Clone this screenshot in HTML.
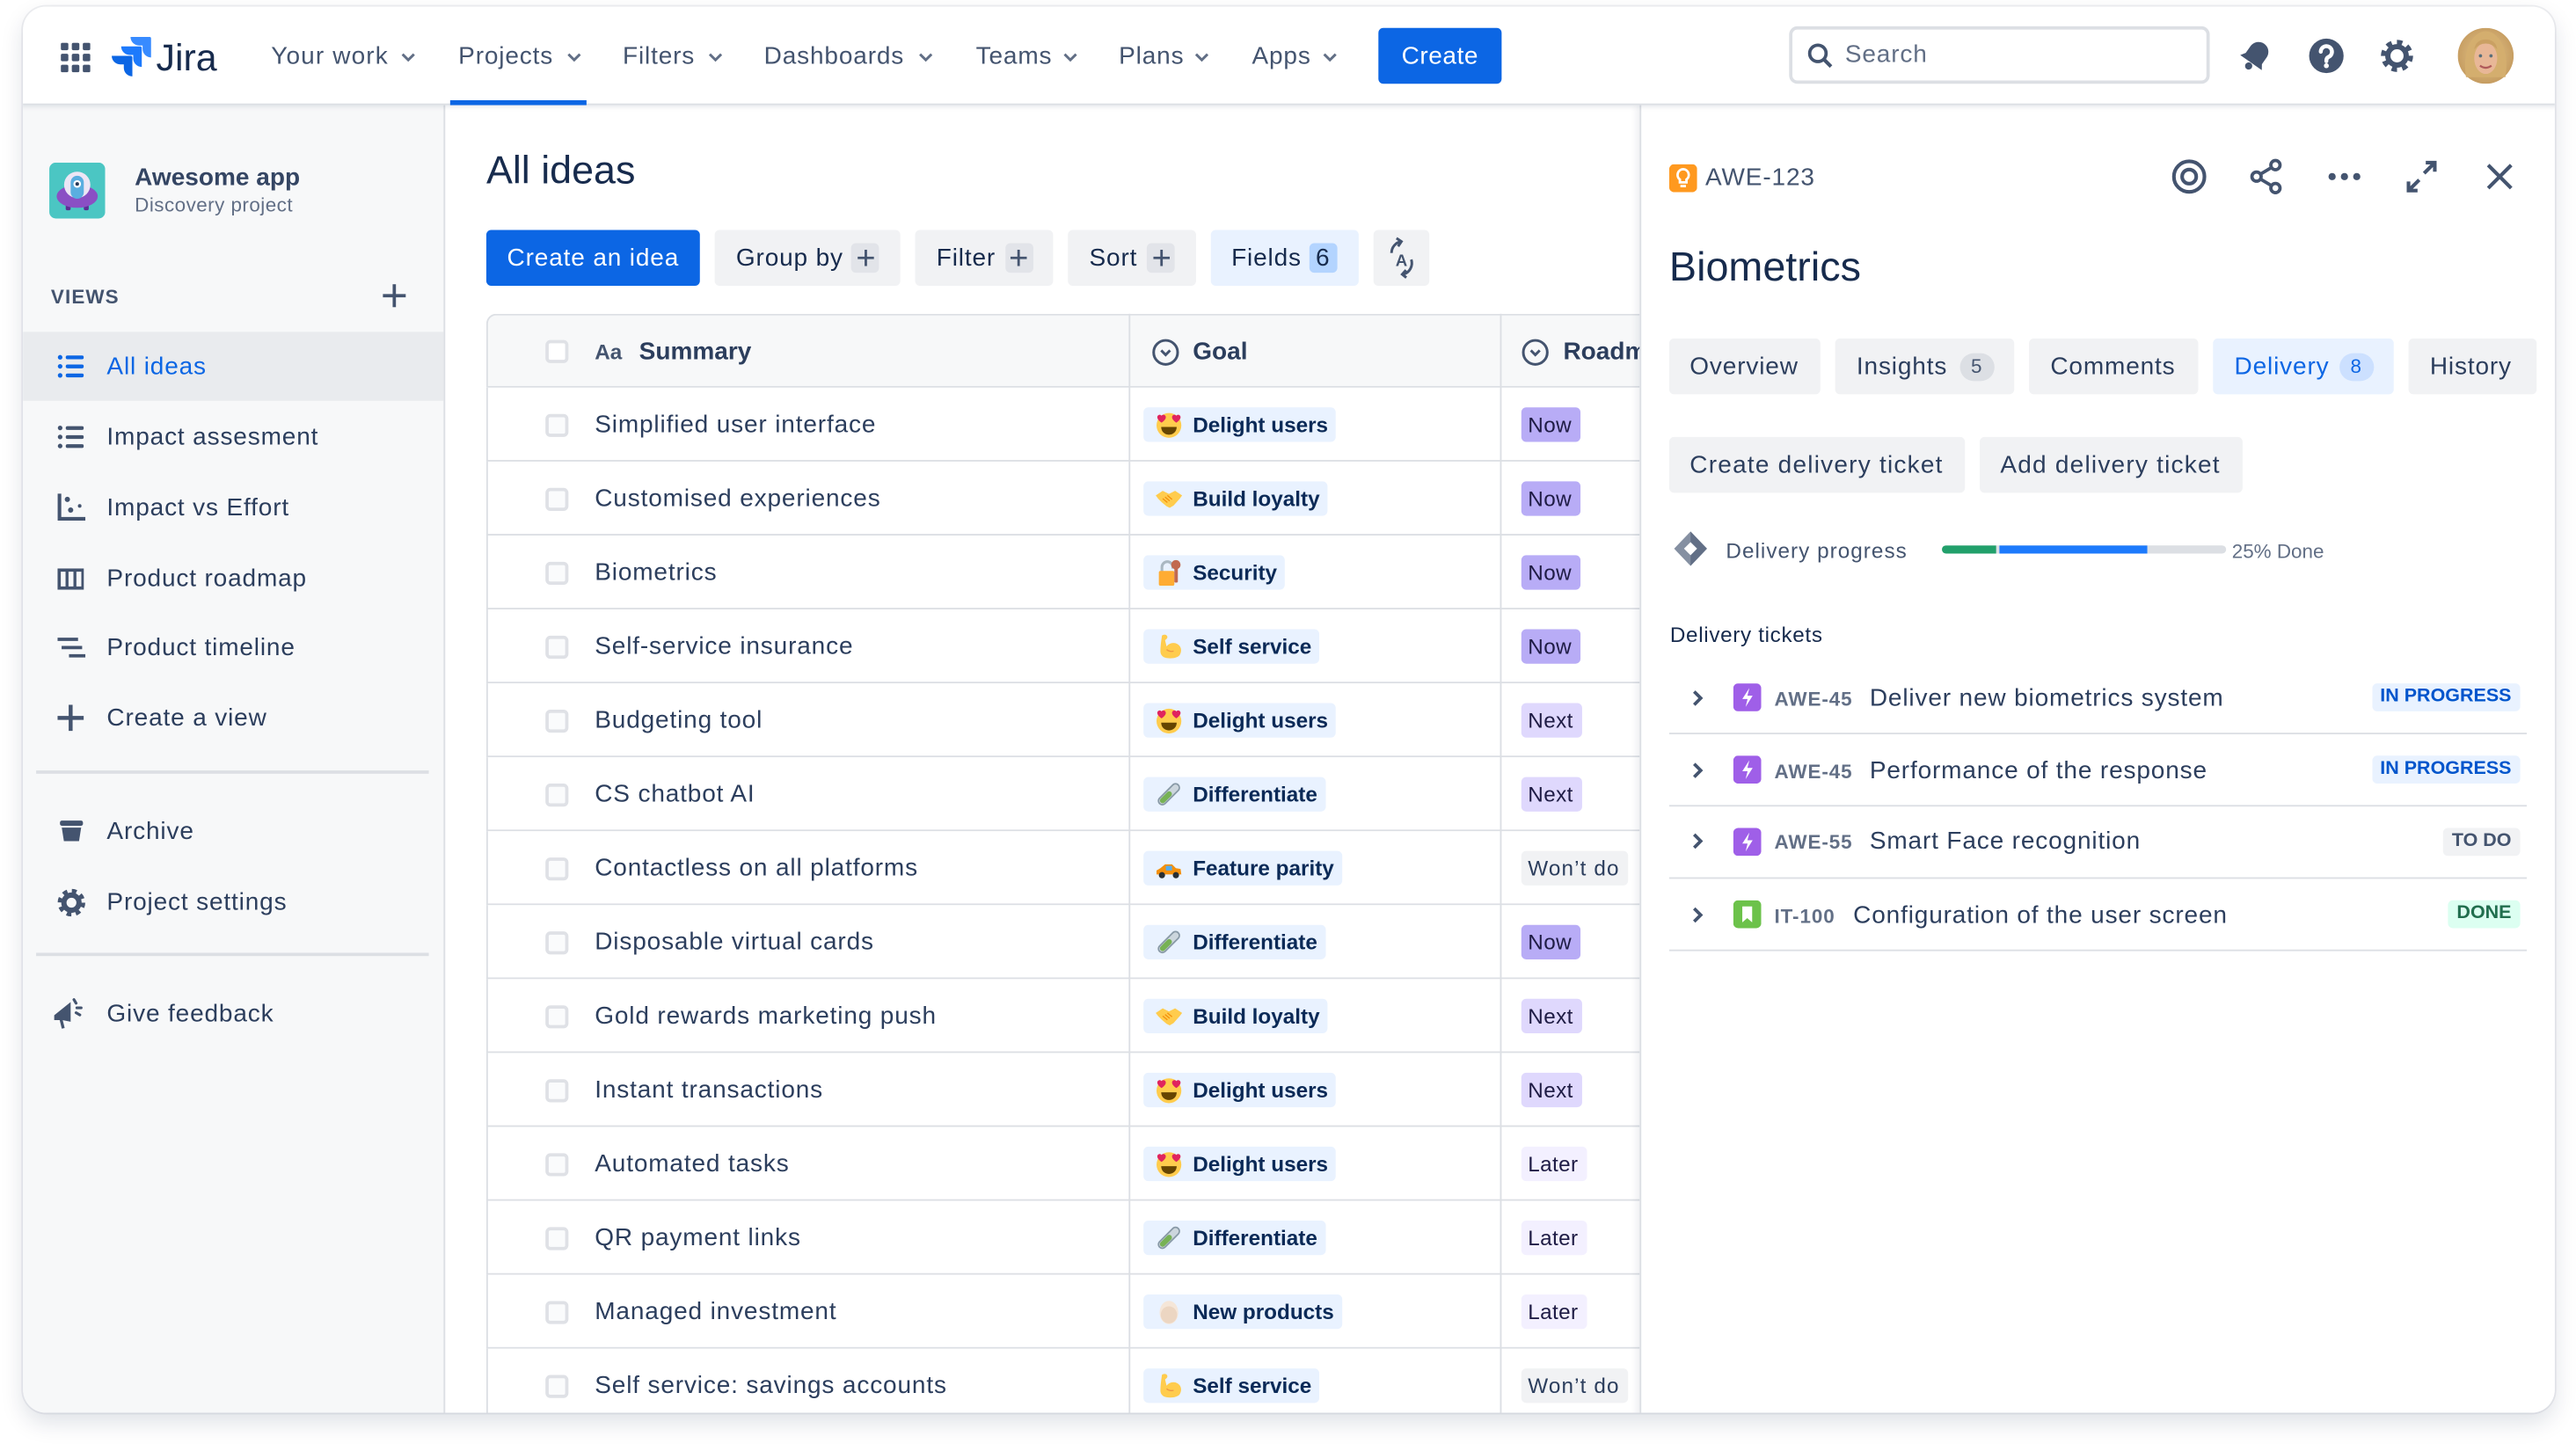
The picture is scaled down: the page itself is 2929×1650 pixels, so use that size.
<!DOCTYPE html>
<html><head><meta charset="utf-8"><title>Jira - All ideas</title>
<style>
html,body{margin:0;padding:0;background:#fff;width:2929px;height:1648px;overflow:hidden}
#s{position:absolute;left:0;top:0;width:1568px;height:883px;transform:scale(1.868048);transform-origin:0 0;font-family:"Liberation Sans",Arial,sans-serif;color:#172b4d}
.a{position:absolute}
.t{position:absolute;white-space:nowrap;height:20px;line-height:20px;font-size:15px;letter-spacing:0.45px;transform:translateY(0.7px)}
.nv{color:#44546f}
.ch{position:absolute;top:32px}
.sb{color:#2c3e5d;left:65px}
.ic{position:absolute;left:35px}
.btn{position:absolute;top:140px;height:34px;background:#f1f2f4;border-radius:3px}
.pb{position:absolute;top:148px;width:17px;height:18px;background:#e2e4e9;border-radius:3px}
.r{position:absolute;left:296px;width:760px;height:45px;box-sizing:border-box;border-left:1px solid #dcdfe4;border-bottom:1px solid #dcdfe4;background:#fff}
.cb{position:absolute;left:35px;top:15.5px;width:14px;height:14px;box-sizing:border-box;border:2px solid #dfe1e6;border-radius:3px;background:#fafbfc}
.sm{position:absolute;left:65px;top:12.5px;font-size:15px;line-height:20px;color:#2c3e5d;white-space:nowrap;letter-spacing:0.45px}
.g{position:absolute;left:399px;top:11.75px;height:21.5px;line-height:21.5px;padding:0 5px 0 30px;background:#e9f2ff;border-radius:3px;font-size:13px;font-weight:bold;color:#0b2a57;white-space:nowrap}
.g svg{position:absolute;left:7px;top:2.25px;width:17px;height:17px}
.rm{position:absolute;left:629px;top:11.75px;height:21.5px;line-height:21.5px;padding:0 5px 0 4px;border-radius:3px;font-size:13px;color:#1f1c45;white-space:nowrap;letter-spacing:0.2px}
.now{background:#b8acf6}
.nx{background:#dfd8fd}
.lt{background:#f3f0ff}
.wd{background:#f1f2f4;color:#2c3e5d;letter-spacing:0.6px}
.tab{position:absolute;top:206px;height:34px;background:#f1f2f4;border-radius:3px}
.bd{position:absolute;top:214.5px;height:17px;line-height:17px;border-radius:9px;font-size:12px;text-align:center;width:21px}
.tk{position:absolute;left:1016px;width:522px;height:1px;background:#dcdfe4}
.key{font-size:12px;font-weight:bold;color:#626f86;letter-spacing:0.5px}
.lz{position:absolute;right:34.4px;height:17px;line-height:17px;padding:0 5px;border-radius:3px;font-size:11.5px;font-weight:bold;white-space:nowrap}
.n0{letter-spacing:0 !important}
</style></head>
<body>
<div id="s">
<div class="a" style="left:14px;top:4px;width:1541px;height:856px;border-radius:14px;background:#fff;box-shadow:0 0 0 1px rgba(9,30,66,0.07),0 6px 14px rgba(9,30,66,0.13);overflow:hidden;">
<div class="a" style="left:-14px;top:-4px;width:1568px;height:883px;">

<!-- SIDEBAR -->
<div class="a" style="left:14px;top:64px;width:256px;height:800px;background:#f7f8f9;border-right:1px solid #dcdfe4"></div>
<svg class="a" style="left:30px;top:99px" width="34" height="34" viewBox="0 0 34 34"><rect width="34" height="34" rx="4" fill="#4bc6c3"/><rect x="10" y="23" width="3" height="6" rx="1" fill="#5b2f94"/><rect x="21" y="23" width="3" height="6" rx="1" fill="#5b2f94"/><ellipse cx="17" cy="20.5" rx="12.5" ry="7" fill="#8a4fc4"/><circle cx="17" cy="13.5" r="8" fill="#ece6f5"/><rect x="13" y="8" width="8" height="14" rx="4" fill="#5aaee0"/><circle cx="17" cy="13" r="2.3" fill="#fff"/><circle cx="17" cy="13" r="1.1" fill="#253858"/></svg>
<div class="t n0" style="left:82px;top:98px;font-weight:bold;color:#344563">Awesome app</div>
<div class="t" style="left:82px;top:114px;font-size:12px;color:#626f86;letter-spacing:0.25px">Discovery project</div>
<div class="t" style="left:31px;top:170px;font-size:12px;font-weight:bold;color:#44546f;letter-spacing:0.6px">VIEWS</div>
<svg class="a" style="left:233px;top:173px" width="14" height="14" viewBox="0 0 14 14"><path d="M7 0v14M0 7h14" stroke="#44546f" stroke-width="2"/></svg>

<div class="a" style="left:14px;top:202px;width:256px;height:42px;background:#e9ebee"></div>
<svg class="ic" style="top:216px" width="16" height="14" viewBox="0 0 16 14"><circle cx="1.6" cy="1.5" r="1.4" fill="#0c66e4"/><circle cx="1.6" cy="7" r="1.4" fill="#0c66e4"/><circle cx="1.6" cy="12.5" r="1.4" fill="#0c66e4"/><rect x="5" y="0.4" width="11" height="2.3" rx="1.1" fill="#0c66e4"/><rect x="5" y="5.9" width="11" height="2.3" rx="1.1" fill="#0c66e4"/><rect x="5" y="11.4" width="11" height="2.3" rx="1.1" fill="#0c66e4"/></svg>
<div class="t sb" style="top:213px;color:#0c66e4">All ideas</div>
<svg class="ic" style="top:259px" width="16" height="14" viewBox="0 0 16 14"><circle cx="1.6" cy="1.5" r="1.4" fill="#44546f"/><circle cx="1.6" cy="7" r="1.4" fill="#44546f"/><circle cx="1.6" cy="12.5" r="1.4" fill="#44546f"/><rect x="5" y="0.4" width="11" height="2.3" rx="1.1" fill="#44546f"/><rect x="5" y="5.9" width="11" height="2.3" rx="1.1" fill="#44546f"/><rect x="5" y="11.4" width="11" height="2.3" rx="1.1" fill="#44546f"/></svg>
<div class="t sb" style="top:256px">Impact assesment</div>
<svg class="ic" style="top:300px" width="17" height="17" viewBox="0 0 17 17"><path d="M1.2 0.5v15.3H17" stroke="#44546f" stroke-width="2.2" fill="none"/><circle cx="6" cy="4" r="1.6" fill="#44546f"/><circle cx="8" cy="10.5" r="1.6" fill="#44546f"/><circle cx="13.5" cy="8" r="1.1" fill="#44546f"/></svg>
<div class="t sb" style="top:299px">Impact vs Effort</div>
<svg class="ic" style="top:346px" width="16" height="13" viewBox="0 0 16 13"><rect x="1" y="1" width="14.5" height="11" fill="none" stroke="#44546f" stroke-width="2"/><path d="M5.8 1v11M10.6 1v11" stroke="#44546f" stroke-width="1.8"/></svg>
<div class="t sb" style="top:342px">Product roadmap</div>
<svg class="ic" style="top:388px" width="17" height="13" viewBox="0 0 17 13"><path d="M0 1.2h12.5M2.5 6.2h12.5M7 11.2h10" stroke="#44546f" stroke-width="2"/></svg>
<div class="t sb" style="top:384px">Product timeline</div>
<svg class="ic" style="top:429px" width="16" height="16" viewBox="0 0 16 16"><path d="M8 0v16M0 8h16" stroke="#44546f" stroke-width="2.4"/></svg>
<div class="t sb" style="top:427px">Create a view</div>
<div class="a" style="left:22px;top:469px;width:239px;height:2px;background:#dcdfe4"></div>
<svg class="ic" style="top:499px;left:36px" width="15" height="14" viewBox="0 0 15 14"><rect x="0.5" y="0.5" width="14" height="3.2" rx="1.2" fill="#44546f"/><path d="M1.6 4.8h11.8l-1.3 8.2H2.9z" fill="#44546f"/></svg>
<div class="t sb" style="top:496px">Archive</div>
<svg class="ic" style="top:541px" width="17" height="17" viewBox="0 0 17 17"><circle cx="8.5" cy="8.5" r="7" fill="none" stroke="#44546f" stroke-width="2.8" stroke-dasharray="2.8 2.7"/><circle cx="8.5" cy="8.5" r="4.6" fill="none" stroke="#44546f" stroke-width="3.2"/></svg>
<div class="t sb" style="top:539px">Project settings</div>
<div class="a" style="left:22px;top:580px;width:239px;height:2px;background:#dcdfe4"></div>
<svg class="ic" style="top:607px;left:32px" width="22" height="20" viewBox="0 0 22 20"><path d="M1 11l10-8v12l-5-1-5 0z" fill="#44546f"/><path d="M5 13l1.5 6" stroke="#44546f" stroke-width="1.8"/><path d="M13 1.5l1.3 2.2M14.8 6.5h2.6M14.3 9.5l2.3 1.3" stroke="#44546f" stroke-width="1.7" stroke-linecap="round"/></svg>
<div class="t sb" style="top:607px">Give feedback</div>

<!-- MAIN -->
<div class="t n0" style="left:296px;top:89px;height:30px;line-height:30px;font-size:24px;color:#172b4d">All ideas</div>

<div class="btn" style="left:296px;width:130px;background:#0c66e4"></div>
<div class="t" style="left:296px;top:147px;width:130px;text-align:center;color:#fff">Create an idea</div>
<div class="btn" style="left:435px;width:113px"></div>
<div class="t" style="left:448px;top:147px">Group by</div>
<div class="pb" style="left:518px"></div>
<svg class="a" style="left:521.5px;top:152px" width="10" height="10" viewBox="0 0 10 10"><path d="M5 0v10M0 5h10" stroke="#44546f" stroke-width="1.5"/></svg>
<div class="btn" style="left:557px;width:84px"></div>
<div class="t" style="left:570px;top:147px">Filter</div>
<div class="pb" style="left:611.5px"></div>
<svg class="a" style="left:615px;top:152px" width="10" height="10" viewBox="0 0 10 10"><path d="M5 0v10M0 5h10" stroke="#44546f" stroke-width="1.5"/></svg>
<div class="btn" style="left:650px;width:78px"></div>
<div class="t" style="left:663px;top:147px">Sort</div>
<div class="pb" style="left:698px"></div>
<svg class="a" style="left:701.5px;top:152px" width="10" height="10" viewBox="0 0 10 10"><path d="M5 0v10M0 5h10" stroke="#44546f" stroke-width="1.5"/></svg>
<div class="btn" style="left:737px;width:90px;background:#e9f2ff"></div>
<div class="t" style="left:749.5px;top:147px">Fields</div>
<div class="pb" style="left:796.5px;background:#b3d4ff"></div>
<div class="t n0" style="left:796.5px;top:147px;width:17px;text-align:center">6</div>
<div class="btn" style="left:836px;width:34px"></div>
<svg class="a" style="left:841px;top:144px" width="24" height="26" viewBox="0 0 24 26"><path d="M6 10a7 7 0 0 1 6-7" stroke="#44546f" stroke-width="1.6" fill="none"/><path d="M9 1l3 2-2 3" stroke="#44546f" stroke-width="1.6" fill="none"/><path d="M18 14a7 7 0 0 1-5 9" stroke="#44546f" stroke-width="1.6" fill="none"/><path d="M15 25l-2.5-2 2.3-2.6" stroke="#44546f" stroke-width="1.6" fill="none"/><text x="12" y="18" font-family="Liberation Sans, Arial, sans-serif" font-size="10" font-weight="bold" fill="#44546f" text-anchor="middle">A</text></svg>

<!-- TABLE -->
<div class="a" style="left:296px;top:191px;width:760px;height:45px;box-sizing:border-box;border:1px solid #dcdfe4;border-right:none;border-top-left-radius:6px;background:#f7f8f9">
  <div class="cb" style="top:14.5px;background:#fff"></div>
  <div class="t n0" style="left:65px;top:11.5px;font-size:13px;font-weight:bold;color:#44546f">Aa</div>
  <div class="t n0" style="left:92px;top:11.5px;font-weight:bold;color:#2c3e5d">Summary</div>
  <svg class="a" style="left:404px;top:13.5px" width="17" height="17" viewBox="0 0 17 17"><circle cx="8.5" cy="8.5" r="7.3" fill="none" stroke="#44546f" stroke-width="1.6"/><path d="M5.8 7.3l2.7 2.7 2.7-2.7" stroke="#44546f" stroke-width="1.6" fill="none"/></svg>
  <div class="t n0" style="left:429px;top:11.5px;font-weight:bold;color:#2c3e5d">Goal</div>
  <svg class="a" style="left:629px;top:13.5px" width="17" height="17" viewBox="0 0 17 17"><circle cx="8.5" cy="8.5" r="7.3" fill="none" stroke="#44546f" stroke-width="1.6"/><path d="M5.8 7.3l2.7 2.7 2.7-2.7" stroke="#44546f" stroke-width="1.6" fill="none"/></svg>
  <div class="t n0" style="left:654.5px;top:11.5px;font-weight:bold;color:#2c3e5d">Roadmap</div>
</div>

<div class="r" style="top:236px"><div class="cb"></div><div class="sm">Simplified user interface</div><div class="g"><svg viewBox="0 0 36 36"><circle cx="18" cy="19" r="16" fill="#ffcc4d"/><path d="M8 21c0 6 4.5 10 10 10s10-4 10-10z" fill="#664500"/><path d="M3 8.5c0-3 3.8-4.5 5.5-1.8C10.2 4 14 5.5 14 8.5c0 3.5-5.5 7-5.5 7S3 12 3 8.5z" fill="#e0245e"/><path d="M22 8.5c0-3 3.8-4.5 5.5-1.8C29.2 4 33 5.5 33 8.5c0 3.5-5.5 7-5.5 7S22 12 22 8.5z" fill="#e0245e"/></svg>Delight users</div><div class="rm now">Now</div></div>
<div class="r" style="top:281px"><div class="cb"></div><div class="sm">Customised experiences</div><div class="g"><svg viewBox="0 0 36 36"><path d="M1 14l9-6 8 4 8-4 9 6-3 4-8 9-5 3-4-2-6-5-5-5z" fill="#ffcc4d"/><path d="M10 18l6 5M13 16l6 5M16 14l6 5" stroke="#f4900c" stroke-width="1.5" fill="none"/></svg>Build loyalty</div><div class="rm now">Now</div></div>
<div class="r" style="top:326px"><div class="cb"></div><div class="sm">Biometrics</div><div class="g"><svg viewBox="0 0 36 36"><path d="M9 17v-6a7 7 0 0 1 14 0v2" stroke="#aab8c2" stroke-width="3.5" fill="none"/><rect x="5" y="16" width="20" height="19" rx="2" fill="#ffac33"/><circle cx="27" cy="8" r="6" fill="#c1694f"/><rect x="25" y="11" width="4.5" height="20" rx="1.5" fill="#c1694f"/></svg>Security</div><div class="rm now">Now</div></div>
<div class="r" style="top:371px"><div class="cb"></div><div class="sm">Self-service insurance</div><div class="g"><svg viewBox="0 0 36 36"><path d="M9 4c3-2 7-1 7 2 0 2-2 3-3 4l2 8c3-4 9-6 14-3 5 3 6 9 3 14-3 4-10 5-17 4-5-1-8-4-8-9 0-6 1-13 2-20z" fill="#ffcc4d"/><path d="M15 22c2 2 6 3 9 2" stroke="#ef9645" stroke-width="1.5" fill="none"/></svg>Self service</div><div class="rm now">Now</div></div>
<div class="r" style="top:416px"><div class="cb"></div><div class="sm">Budgeting tool</div><div class="g"><svg viewBox="0 0 36 36"><circle cx="18" cy="19" r="16" fill="#ffcc4d"/><path d="M8 21c0 6 4.5 10 10 10s10-4 10-10z" fill="#664500"/><path d="M3 8.5c0-3 3.8-4.5 5.5-1.8C10.2 4 14 5.5 14 8.5c0 3.5-5.5 7-5.5 7S3 12 3 8.5z" fill="#e0245e"/><path d="M22 8.5c0-3 3.8-4.5 5.5-1.8C29.2 4 33 5.5 33 8.5c0 3.5-5.5 7-5.5 7S22 12 22 8.5z" fill="#e0245e"/></svg>Delight users</div><div class="rm nx">Next</div></div>
<div class="r" style="top:461px"><div class="cb"></div><div class="sm">CS chatbot AI</div><div class="g"><svg viewBox="0 0 36 36"><g transform="rotate(45 18 18)"><rect x="13" y="1" width="10" height="34" rx="5" fill="#ccd6dd" stroke="#8899a6" stroke-width="2"/><rect x="14.5" y="14" width="7" height="19" rx="3.5" fill="#77b255"/></g></svg>Differentiate</div><div class="rm nx">Next</div></div>
<div class="r" style="top:506px"><div class="cb"></div><div class="sm">Contactless on all platforms</div><div class="g"><svg viewBox="0 0 36 36"><path d="M2 26v-5l5-3 6-5h9l5 5 6 1 1 7z" fill="#f4900c"/><rect x="14" y="15" width="8" height="6" rx="1" fill="#55acee"/><circle cx="9" cy="27" r="4" fill="#292f33"/><circle cx="27" cy="27" r="4" fill="#292f33"/></svg>Feature parity</div><div class="rm wd">Won’t do</div></div>
<div class="r" style="top:551px"><div class="cb"></div><div class="sm">Disposable virtual cards</div><div class="g"><svg viewBox="0 0 36 36"><g transform="rotate(45 18 18)"><rect x="13" y="1" width="10" height="34" rx="5" fill="#ccd6dd" stroke="#8899a6" stroke-width="2"/><rect x="14.5" y="14" width="7" height="19" rx="3.5" fill="#77b255"/></g></svg>Differentiate</div><div class="rm now">Now</div></div>
<div class="r" style="top:596px"><div class="cb"></div><div class="sm">Gold rewards marketing push</div><div class="g"><svg viewBox="0 0 36 36"><path d="M1 14l9-6 8 4 8-4 9 6-3 4-8 9-5 3-4-2-6-5-5-5z" fill="#ffcc4d"/><path d="M10 18l6 5M13 16l6 5M16 14l6 5" stroke="#f4900c" stroke-width="1.5" fill="none"/></svg>Build loyalty</div><div class="rm nx">Next</div></div>
<div class="r" style="top:641px"><div class="cb"></div><div class="sm">Instant transactions</div><div class="g"><svg viewBox="0 0 36 36"><circle cx="18" cy="19" r="16" fill="#ffcc4d"/><path d="M8 21c0 6 4.5 10 10 10s10-4 10-10z" fill="#664500"/><path d="M3 8.5c0-3 3.8-4.5 5.5-1.8C10.2 4 14 5.5 14 8.5c0 3.5-5.5 7-5.5 7S3 12 3 8.5z" fill="#e0245e"/><path d="M22 8.5c0-3 3.8-4.5 5.5-1.8C29.2 4 33 5.5 33 8.5c0 3.5-5.5 7-5.5 7S22 12 22 8.5z" fill="#e0245e"/></svg>Delight users</div><div class="rm nx">Next</div></div>
<div class="r" style="top:686px"><div class="cb"></div><div class="sm">Automated tasks</div><div class="g"><svg viewBox="0 0 36 36"><circle cx="18" cy="19" r="16" fill="#ffcc4d"/><path d="M8 21c0 6 4.5 10 10 10s10-4 10-10z" fill="#664500"/><path d="M3 8.5c0-3 3.8-4.5 5.5-1.8C10.2 4 14 5.5 14 8.5c0 3.5-5.5 7-5.5 7S3 12 3 8.5z" fill="#e0245e"/><path d="M22 8.5c0-3 3.8-4.5 5.5-1.8C29.2 4 33 5.5 33 8.5c0 3.5-5.5 7-5.5 7S22 12 22 8.5z" fill="#e0245e"/></svg>Delight users</div><div class="rm lt">Later</div></div>
<div class="r" style="top:731px"><div class="cb"></div><div class="sm">QR payment links</div><div class="g"><svg viewBox="0 0 36 36"><g transform="rotate(45 18 18)"><rect x="13" y="1" width="10" height="34" rx="5" fill="#ccd6dd" stroke="#8899a6" stroke-width="2"/><rect x="14.5" y="14" width="7" height="19" rx="3.5" fill="#77b255"/></g></svg>Differentiate</div><div class="rm lt">Later</div></div>
<div class="r" style="top:776px"><div class="cb"></div><div class="sm">Managed investment</div><div class="g"><svg viewBox="0 0 36 36"><ellipse cx="18" cy="19" rx="12" ry="15" fill="#f5e6d8"/><ellipse cx="18" cy="22" rx="10.5" ry="11" fill="#ecd6c2"/></svg>New products</div><div class="rm lt">Later</div></div>
<div class="r" style="top:821px"><div class="cb"></div><div class="sm">Self service: savings accounts</div><div class="g"><svg viewBox="0 0 36 36"><path d="M9 4c3-2 7-1 7 2 0 2-2 3-3 4l2 8c3-4 9-6 14-3 5 3 6 9 3 14-3 4-10 5-17 4-5-1-8-4-8-9 0-6 1-13 2-20z" fill="#ffcc4d"/><path d="M15 22c2 2 6 3 9 2" stroke="#ef9645" stroke-width="1.5" fill="none"/></svg>Self service</div><div class="rm wd">Won’t do</div></div>

<div class="a" style="left:686.5px;top:191px;width:1px;height:680px;background:#dcdfe4"></div>
<div class="a" style="left:912.5px;top:191px;width:1px;height:680px;background:#dcdfe4"></div>

<!-- RIGHT PANEL -->
<div class="a" style="left:998px;top:64px;width:570px;height:810px;background:#fff;border-left:1px solid #dcdfe4;box-shadow:-2px 0 4px rgba(9,30,66,0.07)"></div>
<svg class="a" style="left:1016px;top:99.5px" width="17" height="17" viewBox="0 0 17 17"><rect width="17" height="17" rx="3" fill="#ff991f"/><path d="M8.5 3a3.5 3.5 0 0 1 2 6.3V11h-4V9.3A3.5 3.5 0 0 1 8.5 3z" fill="none" stroke="#fff" stroke-width="1.5"/><path d="M6.8 13.3h3.4" stroke="#fff" stroke-width="1.5"/></svg>
<div class="t" style="left:1038px;top:98px;color:#44546f">AWE-123</div>
<svg class="a" style="left:1321px;top:96px" width="23" height="23" viewBox="0 0 23 23"><circle cx="11.5" cy="11.5" r="9.3" fill="none" stroke="#44546f" stroke-width="2.2"/><circle cx="11.5" cy="11.5" r="4.3" fill="none" stroke="#44546f" stroke-width="2.2"/></svg>
<svg class="a" style="left:1369px;top:96px" width="22" height="23" viewBox="0 0 22 23"><circle cx="16" cy="4.5" r="2.8" fill="none" stroke="#44546f" stroke-width="2"/><circle cx="4.5" cy="11.5" r="2.8" fill="none" stroke="#44546f" stroke-width="2"/><circle cx="16" cy="18.5" r="2.8" fill="none" stroke="#44546f" stroke-width="2"/><path d="M6.9 10l6.7-4M6.9 13l6.7 4" stroke="#44546f" stroke-width="2"/></svg>
<svg class="a" style="left:1416px;top:103px" width="22" height="9" viewBox="0 0 22 9"><circle cx="3.5" cy="4.5" r="2.2" fill="#44546f"/><circle cx="11" cy="4.5" r="2.2" fill="#44546f"/><circle cx="18.5" cy="4.5" r="2.2" fill="#44546f"/></svg>
<svg class="a" style="left:1464px;top:97px" width="20" height="21" viewBox="0 0 20 21"><path d="M12.5 2h5.5v5.5M18 2l-6.5 6.5M7.5 19H2v-5.5M2 19l6.5-6.5" stroke="#44546f" stroke-width="2.2" fill="none"/></svg>
<svg class="a" style="left:1513px;top:99px" width="17" height="17" viewBox="0 0 17 17"><path d="M1.5 1.5l14 14M15.5 1.5l-14 14" stroke="#44546f" stroke-width="2.2"/></svg>

<div class="t n0" style="left:1016px;top:147px;height:30px;line-height:30px;font-size:25px;color:#172b4d">Biometrics</div>

<div class="tab" style="left:1016px;width:92px"></div>
<div class="t" style="left:1028.5px;top:213px;color:#2c3e5d">Overview</div>
<div class="tab" style="left:1117px;width:109px"></div>
<div class="t" style="left:1130px;top:213px;color:#2c3e5d">Insights</div>
<div class="bd" style="left:1192.5px;background:#dcdfe4;color:#44546f">5</div>
<div class="tab" style="left:1235px;width:103px"></div>
<div class="t" style="left:1248px;top:213px;color:#2c3e5d">Comments</div>
<div class="tab" style="left:1347px;width:110px;background:#e9f2ff"></div>
<div class="t" style="left:1360px;top:213px;color:#0c66e4">Delivery</div>
<div class="bd" style="left:1423.5px;background:#cce0ff;color:#0c66e4">8</div>
<div class="tab" style="left:1466px;width:78px"></div>
<div class="t" style="left:1479px;top:213px;color:#2c3e5d">History</div>

<div class="a" style="left:1016px;top:266px;width:180px;height:34px;background:#f1f2f4;border-radius:3px"></div>
<div class="t" style="left:1028.5px;top:273px;color:#2c3e5d;letter-spacing:0.65px">Create delivery ticket</div>
<div class="a" style="left:1204.5px;top:266px;width:160px;height:34px;background:#f1f2f4;border-radius:3px"></div>
<div class="t" style="left:1217.5px;top:273px;color:#2c3e5d;letter-spacing:0.65px">Add delivery ticket</div>

<svg class="a" style="left:1018px;top:322.5px" width="22" height="22" viewBox="0 0 22 22"><path d="M11 0.5L21 11 11 21.5 1 11z" fill="#8590a2"/><path d="M11 0.5L21 11 11 21.5z" fill="#626f86"/><path d="M11 7l4 4-4 4-4-4z" fill="#fff"/></svg>
<div class="t" style="left:1050.5px;top:325px;font-size:13px;color:#44546f;letter-spacing:0.55px">Delivery progress</div>
<div class="a" style="left:1182px;top:332px;width:173px;height:5px;border-radius:3px;background:#dcdfe4;overflow:hidden">
  <div class="a" style="left:0;top:0;width:33px;height:5px;background:#22a06b"></div>
  <div class="a" style="left:35px;top:0;width:90px;height:5px;background:#1d7afc"></div>
</div>
<div class="t n0" style="left:1358.5px;top:325px;font-size:12px;color:#626f86">25% Done</div>

<div class="t" style="left:1016.5px;top:376px;font-size:13px;color:#172b4d;letter-spacing:0.35px">Delivery tickets</div>

<svg class="a" style="left:1030px;top:419.5px" width="7" height="10" viewBox="0 0 7 10"><path d="M1.2 1l4 4-4 4" stroke="#44546f" stroke-width="2" fill="none"/></svg>
<svg class="a" style="left:1055px;top:416px" width="17" height="17" viewBox="0 0 17 17"><rect width="17" height="17" rx="3" fill="#9f5fe8"/><path d="M9.8 2.8L5.5 9.5h3.2l-1.2 4.8 4.3-6.8H8.6z" fill="#fff"/></svg>
<div class="t key" style="left:1080px;top:414.5px">AWE-45</div>
<div class="t" style="left:1138px;top:414.5px;color:#2c3e5d">Deliver new biometrics system</div>
<div class="lz" style="top:416px;background:#e9f2ff;color:#0055cc">IN PROGRESS</div>
<div class="tk" style="top:446px"></div>

<svg class="a" style="left:1030px;top:463.5px" width="7" height="10" viewBox="0 0 7 10"><path d="M1.2 1l4 4-4 4" stroke="#44546f" stroke-width="2" fill="none"/></svg>
<svg class="a" style="left:1055px;top:460px" width="17" height="17" viewBox="0 0 17 17"><rect width="17" height="17" rx="3" fill="#9f5fe8"/><path d="M9.8 2.8L5.5 9.5h3.2l-1.2 4.8 4.3-6.8H8.6z" fill="#fff"/></svg>
<div class="t key" style="left:1080px;top:458.5px">AWE-45</div>
<div class="t" style="left:1138px;top:458.5px;color:#2c3e5d">Performance of the response</div>
<div class="lz" style="top:460px;background:#e9f2ff;color:#0055cc">IN PROGRESS</div>
<div class="tk" style="top:490px"></div>

<svg class="a" style="left:1030px;top:507px" width="7" height="10" viewBox="0 0 7 10"><path d="M1.2 1l4 4-4 4" stroke="#44546f" stroke-width="2" fill="none"/></svg>
<svg class="a" style="left:1055px;top:503.5px" width="17" height="17" viewBox="0 0 17 17"><rect width="17" height="17" rx="3" fill="#9f5fe8"/><path d="M9.8 2.8L5.5 9.5h3.2l-1.2 4.8 4.3-6.8H8.6z" fill="#fff"/></svg>
<div class="t key" style="left:1080px;top:502px">AWE-55</div>
<div class="t" style="left:1138px;top:502px;color:#2c3e5d">Smart Face recognition</div>
<div class="lz" style="top:503.5px;background:#f1f2f4;color:#44546f">TO DO</div>
<div class="tk" style="top:534px"></div>

<svg class="a" style="left:1030px;top:551.5px" width="7" height="10" viewBox="0 0 7 10"><path d="M1.2 1l4 4-4 4" stroke="#44546f" stroke-width="2" fill="none"/></svg>
<svg class="a" style="left:1055px;top:548px" width="17" height="17" viewBox="0 0 17 17"><rect width="17" height="17" rx="3" fill="#6cc24a"/><path d="M5.5 3.8h6v9.7l-3-2.6-3 2.6z" fill="#fff"/></svg>
<div class="t key" style="left:1080px;top:546.5px">IT-100</div>
<div class="t" style="left:1128px;top:546.5px;color:#2c3e5d">Configuration of the user screen</div>
<div class="lz" style="top:548px;background:#dcfff1;color:#216e4e">DONE</div>
<div class="tk" style="top:577.5px"></div>

<!-- NAVBAR -->
<div class="a" style="left:0;top:0;width:1568px;height:63px;background:#fff;border-bottom:1px solid #dcdfe4;box-shadow:0 1px 3px rgba(9,30,66,0.10)"></div>
<svg class="a" style="left:37px;top:26px" width="18" height="18" viewBox="0 0 18 18"><g fill="#44546f"><rect x="0" y="0" width="4.6" height="4.6" rx="1"/><rect x="6.7" y="0" width="4.6" height="4.6" rx="1"/><rect x="13.4" y="0" width="4.6" height="4.6" rx="1"/><rect x="0" y="6.7" width="4.6" height="4.6" rx="1"/><rect x="6.7" y="6.7" width="4.6" height="4.6" rx="1"/><rect x="13.4" y="6.7" width="4.6" height="4.6" rx="1"/><rect x="0" y="13.4" width="4.6" height="4.6" rx="1"/><rect x="6.7" y="13.4" width="4.6" height="4.6" rx="1"/><rect x="13.4" y="13.4" width="4.6" height="4.6" rx="1"/></g></svg>
<svg class="a" style="left:68px;top:22px" width="24" height="25" viewBox="0 0 24 24"><path d="M11.571 11.513H0a5.218 5.218 0 0 0 5.232 5.215h2.13v2.057A5.215 5.215 0 0 0 12.575 24V12.518a1.005 1.005 0 0 0-1.005-1.005z" fill="#0c66e4"/><path d="M17.294 5.757H5.736a5.215 5.215 0 0 0 5.215 5.214h2.129v2.058a5.218 5.218 0 0 0 5.215 5.214V6.758a1.001 1.001 0 0 0-1.001-1.001z" fill="#1d7afc"/><path d="M23.013 0H11.455a5.215 5.215 0 0 0 5.215 5.215h2.129v2.057A5.215 5.215 0 0 0 24 12.483V1.005A1.001 1.001 0 0 0 23.013 0z" fill="#388bff"/></svg>
<div class="t n0" style="left:95px;top:20px;height:28px;line-height:28px;font-size:23px;color:#172b4d">Jira</div>

<div class="t nv" style="left:165px;top:24px;letter-spacing:0.6px">Your work</div>
<svg class="ch" style="left:244px" width="9" height="6" viewBox="0 0 9 6"><path d="M1 1l3.5 3.5L8 1" stroke="#626f86" stroke-width="1.6" fill="none"/></svg>
<div class="t nv" style="left:279px;top:24px">Projects</div>
<svg class="ch" style="left:345px" width="9" height="6" viewBox="0 0 9 6"><path d="M1 1l3.5 3.5L8 1" stroke="#626f86" stroke-width="1.6" fill="none"/></svg>
<div class="t nv" style="left:379px;top:24px">Filters</div>
<svg class="ch" style="left:431px" width="9" height="6" viewBox="0 0 9 6"><path d="M1 1l3.5 3.5L8 1" stroke="#626f86" stroke-width="1.6" fill="none"/></svg>
<div class="t nv" style="left:465px;top:24px">Dashboards</div>
<svg class="ch" style="left:559px" width="9" height="6" viewBox="0 0 9 6"><path d="M1 1l3.5 3.5L8 1" stroke="#626f86" stroke-width="1.6" fill="none"/></svg>
<div class="t nv" style="left:594px;top:24px">Teams</div>
<svg class="ch" style="left:647px" width="9" height="6" viewBox="0 0 9 6"><path d="M1 1l3.5 3.5L8 1" stroke="#626f86" stroke-width="1.6" fill="none"/></svg>
<div class="t nv" style="left:681px;top:24px">Plans</div>
<svg class="ch" style="left:727px" width="9" height="6" viewBox="0 0 9 6"><path d="M1 1l3.5 3.5L8 1" stroke="#626f86" stroke-width="1.6" fill="none"/></svg>
<div class="t nv" style="left:762px;top:24px">Apps</div>
<svg class="ch" style="left:805px" width="9" height="6" viewBox="0 0 9 6"><path d="M1 1l3.5 3.5L8 1" stroke="#626f86" stroke-width="1.6" fill="none"/></svg>
<div class="a" style="left:274px;top:61px;width:83px;height:3px;background:#0c66e4"></div>

<div class="a" style="left:839px;top:17px;width:75px;height:34px;background:#0c66e4;border-radius:3px"></div>
<div class="t" style="left:839px;top:24px;width:75px;text-align:center;color:#fff;letter-spacing:0.3px">Create</div>

<div class="a" style="left:1089px;top:16px;width:256px;height:35px;box-sizing:border-box;border:2px solid #dcdfe4;border-radius:5px;background:#fff"></div>
<svg class="a" style="left:1100px;top:26px" width="16" height="16" viewBox="0 0 16 16"><circle cx="6.5" cy="6.5" r="5" fill="none" stroke="#44546f" stroke-width="2"/><path d="M10.2 10.2l4.3 4.3" stroke="#44546f" stroke-width="2.2"/></svg>
<div class="t" style="left:1123px;top:23px;color:#626f86">Search</div>

<svg class="a" style="left:1363px;top:23px" width="20" height="22" viewBox="0 0 20 22"><g transform="rotate(35 10 11)"><path d="M10 2a6 6 0 0 1 6 6v5l2 3H2l2-3V8a6 6 0 0 1 6-6z" fill="#44546f"/><circle cx="10" cy="18.5" r="2.2" fill="#44546f"/></g></svg>
<svg class="a" style="left:1405px;top:23px" width="22" height="22" viewBox="0 0 22 22"><circle cx="11" cy="11" r="10.5" fill="#44546f"/><path d="M7.6 8.5a3.4 3.4 0 1 1 4.8 3.1c-.9.5-1.4 1-1.4 2.1v.6" stroke="#fff" stroke-width="2.4" fill="none" stroke-linecap="round"/><circle cx="11" cy="17" r="1.5" fill="#fff"/></svg>
<svg class="a" style="left:1449px;top:24px" width="20" height="20" viewBox="0 0 20 20"><circle cx="10" cy="10" r="8.3" fill="none" stroke="#44546f" stroke-width="3" stroke-dasharray="3.3 3.2"/><circle cx="10" cy="10" r="5.6" fill="none" stroke="#44546f" stroke-width="3.2"/></svg>
<svg class="a" style="left:1496px;top:17px" width="34" height="34" viewBox="0 0 34 34"><defs><radialGradient id="av" cx="50%" cy="48%" r="55%"><stop offset="0%" stop-color="#ecc0a0"/><stop offset="42%" stop-color="#e0ae8c"/><stop offset="58%" stop-color="#d2ad72"/><stop offset="100%" stop-color="#c49a5e"/></radialGradient></defs><circle cx="17" cy="17" r="17" fill="url(#av)"/><path d="M5 30q-2-14 3-22 4-6 9-6t9 6q5 8 3 22z" fill="#d4ae6e"/><ellipse cx="17" cy="18.5" rx="7" ry="9.5" fill="#e8b797"/><circle cx="13.8" cy="17" r="1" fill="#5a6f7a"/><circle cx="20.2" cy="17" r="1" fill="#5a6f7a"/><path d="M13.5 23q3.5 2.5 7 0" stroke="#b05a5a" stroke-width="1.2" fill="none"/><path d="M10 13q1-6 7-6t7 6q-3-3.5-7-3.5t-7 3.5z" fill="#caa063"/></svg>

</div>
</div>
</div>
</body></html>
